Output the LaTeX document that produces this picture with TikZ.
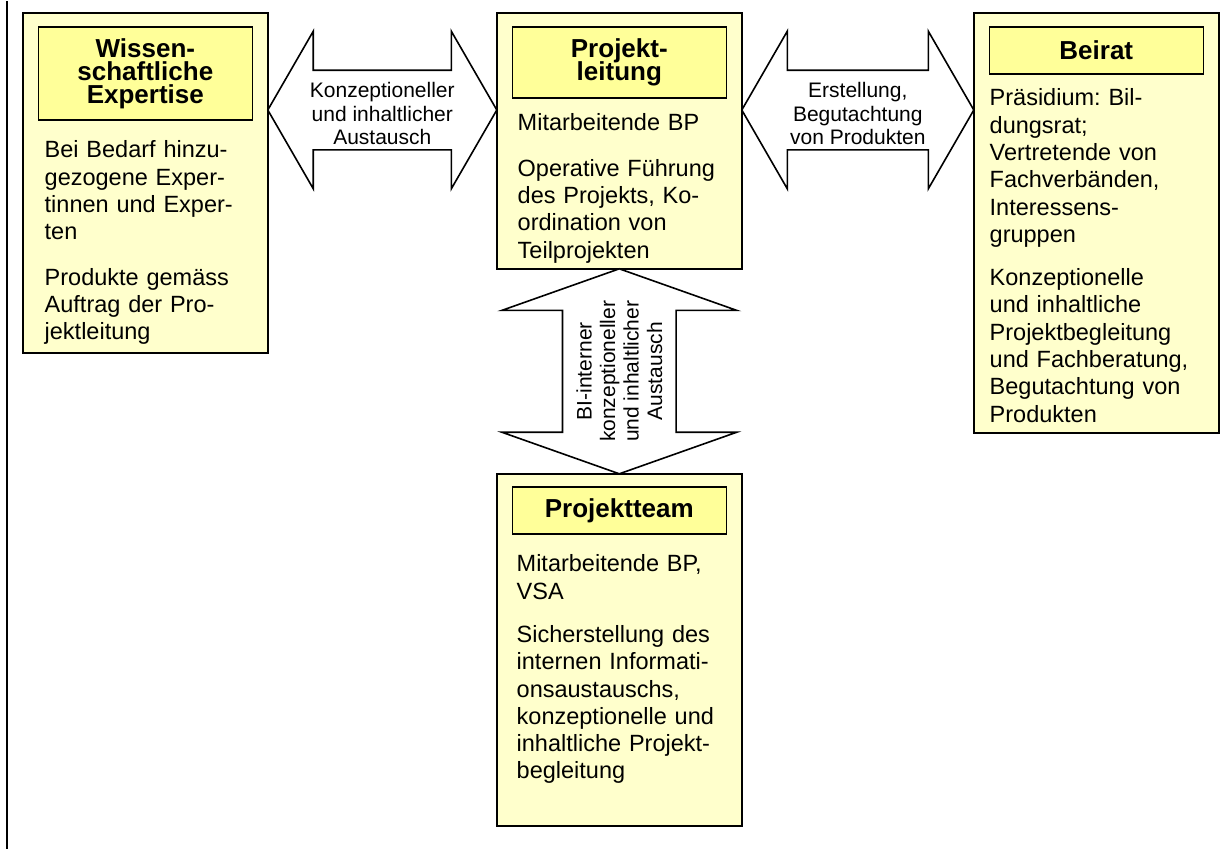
\documentclass[tikz,border=0pt]{standalone}
\usepackage{fontspec}
\setmainfont{Liberation Sans}
\frenchspacing
\usetikzlibrary{shapes.arrows,calc}
\definecolor{boxfill}{HTML}{FFFFCC}
\definecolor{headfill}{HTML}{FFFF99}
\newcommand\tightlines{\lineskiplimit-20pt\relax}
\tikzset{
  outerbox/.style={draw, line width=1.6pt, fill=boxfill, anchor=north west, minimum width=245pt, inner sep=0pt},
  headbox/.style={draw, line width=1.6pt, fill=headfill, anchor=north, minimum width=214pt, inner sep=0pt, align=center, font=\fontsize{26}{23}\selectfont\bfseries\tightlines},
  bodytext/.style={anchor=north west, inner sep=0pt, text width=222pt, align=left, font=\fontsize{23.5}{27.3}\selectfont},
  blockarrow/.style={draw, line width=1.6pt, fill=white, double arrow, inner xsep=0pt},
  arrowlabel/.style={align=center, inner sep=0pt, font=\fontsize{21}{23.5}\selectfont\tightlines}
}
\begin{document}
\begin{tikzpicture}[x=1pt,y=1pt]
    \useasboundingbox (0,0) rectangle (1228,-849);
    % margin bar
    \coordinate (bartop) at (7,-1);
    \coordinate (barbot) at (7,-849);
    \draw[line width=2.2pt] (bartop) -- (barbot);

    % boxes
    \node[outerbox, minimum height=340pt] (expbox) at (22,-12) {};
    \node[outerbox, minimum height=256pt] (leitbox) at (496,-12) {};
    \node[outerbox, minimum height=420pt] (beiratbox) at (973,-12) {};
    \node[outerbox, minimum height=352pt] (teambox) at (496,-473) {};

    % headers
    \node[headbox, minimum height=93pt] at ([yshift=-14pt]expbox.north)(exphead){Wissen-\\schaftliche\\Expertise};
    \node[headbox, minimum height=71pt] at ([yshift=-14pt]leitbox.north)(leithead){Projekt-\\leitung};
    \node[headbox, minimum height=47pt] at ([yshift=-14pt]beiratbox.north)(beirathead){Beirat};
    \node[headbox, minimum height=47pt] at ([yshift=-13pt]teambox.north)(teamhead){Projektteam};

    % body texts
    \node[bodytext] at ([xshift=7pt, yshift=-20pt]exphead.south west)(expbody){Bei Bedarf hinzu-\\gezogene Exper-\\tinnen und Exper-\\ten\\[18pt]Produkte gemäss\\Auftrag der Pro-\\jektleitung};
    \node[bodytext] at ([xshift=6pt, yshift=-15pt]leithead.south west)(leitbody){Mitarbeitende BP\\[18pt]Operative Führung\\des Projekts, Ko-\\ordination von\\Teilprojekten};
    \node[bodytext] at ([xshift=1pt, yshift=-14pt]beirathead.south west)(beiratbody){Präsidium: Bil-\\dungsrat;\\Vertretende von\\Fachverbänden,\\Interessens-\\gruppen\\[16pt]Konzeptionelle\\und inhaltliche\\Projektbegleitung\\und Fachberatung,\\Begutachtung von\\Produkten};
    \node[bodytext] at ([xshift=5pt, yshift=-20pt]teamhead.south west)(teambody){Mitarbeitende BP,\\VSA\\[16pt]Sicherstellung des\\internen Informati-\\onsaustauschs,\\konzeptionelle und\\inhaltliche Projekt-\\begleitung};

    % block arrows
    \node[blockarrow, minimum height=229pt, inner ysep=39pt, double arrow head extend=39pt, double arrow tip angle=120] (arrexp) at ($(expbox.north east)!.5!(leitbox.north west)+(0,-98)$) {};
    \node[blockarrow, minimum height=232pt, inner ysep=39pt, double arrow head extend=39pt, double arrow tip angle=120] (arrbeirat) at ($(leitbox.north east)!.5!(beiratbox.north west)+(0,-98)$) {};
    \node[blockarrow, rotate=90, minimum height=205pt, inner ysep=56pt, double arrow head extend=60.5pt, double arrow tip angle=141] (arrteam) at ($(leitbox.south)!.5!(teambox.north)$) {};

    \node[arrowlabel] at ([yshift=-3.5pt]arrexp.center)(explabel){Konzeptioneller\\und inhaltlicher\\Austausch};
    \node[arrowlabel] at ([yshift=-3.5pt]arrbeirat.center)(beiratlabel){Erstellung,\\Begutachtung\\von Produkten};
    \node[arrowlabel, rotate=90] at (arrteam.center)(teamlabel){BI-interner\\konzeptioneller\\und inhaltlicher\\Austausch};
\end{tikzpicture}
\end{document}
